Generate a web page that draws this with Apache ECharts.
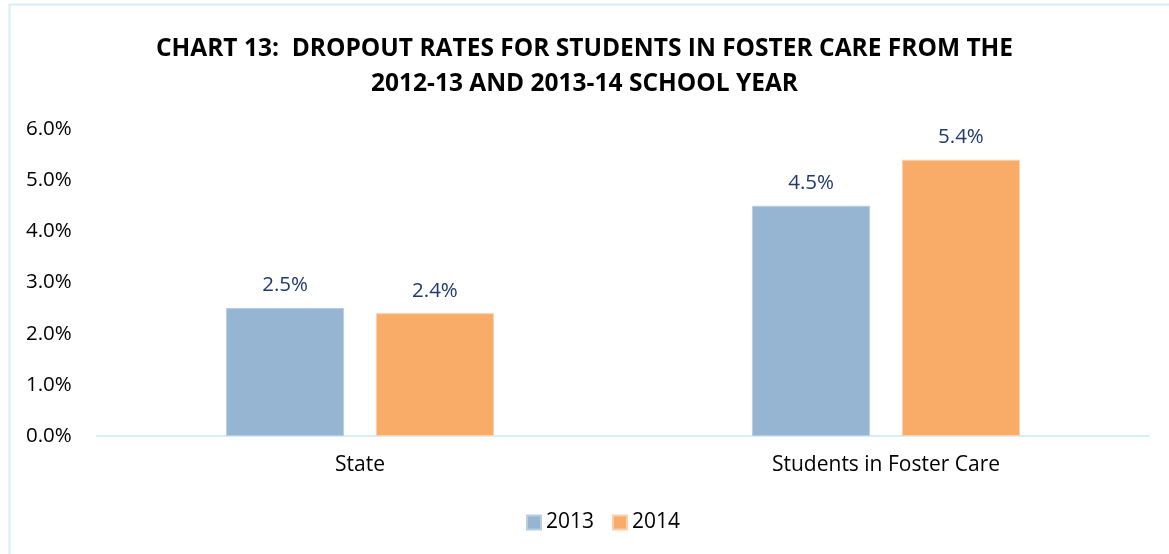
<!DOCTYPE html>
<html>
<head>
<meta charset="utf-8">
<script src="https://cdn.jsdelivr.net/npm/echarts@6/dist/echarts.min.js"></script>
<style>
  html, body { margin: 0; padding: 0; background: #fff; }
  #main { width: 1169px; height: 554px; }
</style>
</head>
<body>
<div id="main"></div>
<script>
var categories = ['State', 'Students in Foster Care'];
var rate2013 = [2.5, 4.5];
var rate2014 = [2.4, 5.4];
var yTicks = [0, 1, 2, 3, 4, 5, 6];

var chart = echarts.init(document.getElementById('main'));
var font = '"Open Sans", "Liberation Sans", sans-serif';

var option = {
  backgroundColor: '#fff',
  title: {
    text: 'CHART 13:  DROPOUT RATES FOR STUDENTS IN FOSTER CARE FROM THE\n2012-13 AND 2013-14 SCHOOL YEAR',
    left: 'center',
    top: 27,
    textStyle: {
      fontFamily: font,
      fontWeight: 'bold',
      fontSize: 24.5,
      lineHeight: 35,
      color: '#000'
    }
  },
  graphic: [{
    type: 'rect',
    shape: { x: 9.5, y: 4.5, width: 1300, height: 700 },
    style: { fill: null, stroke: '#d6eef7', lineWidth: 2 },
    silent: true
  }],
  legend: {
    bottom: 16,
    left: 521,
    itemWidth: 14,
    itemHeight: 14,
    itemGap: 18,
    icon: 'rect',
    textStyle: { fontFamily: font, fontSize: 21, color: '#000' },
    data: ['2013', '2014']
  },
  grid: { left: 97, right: 20, top: 129, bottom: 118 },
  xAxis: {
    type: 'category',
    data: categories,
    axisLine: { lineStyle: { color: '#d6eef7', width: 2 } },
    axisTick: { show: false },
    axisLabel: { fontFamily: font, fontSize: 21, color: '#000', margin: 19 }
  },
  yAxis: {
    type: 'value',
    min: yTicks[0],
    max: yTicks[yTicks.length - 1],
    interval: 1,
    splitLine: { show: false },
    axisLine: { show: false },
    axisTick: { show: false },
    axisLabel: {
      fontFamily: font, fontSize: 20.5, color: '#000', margin: 71,
      align: 'left',
      formatter: function (v) { return v.toFixed(1) + '%'; }
    }
  },
  series: [
    {
      name: '2013',
      type: 'bar',
      data: rate2013,
      barWidth: 118,
      barGap: '27%',
      itemStyle: { color: '#95b5d3', borderColor: '#b8cde2', borderWidth: 1 },
      label: {
        show: true, position: 'top', distance: 12,
        fontFamily: font, fontSize: 20.5, color: '#1f3a6e',
        formatter: function (p) { return p.value.toFixed(1) + '%'; }
      }
    },
    {
      name: '2014',
      type: 'bar',
      data: rate2014,
      barWidth: 118,
      itemStyle: { color: '#f9ab68', borderColor: '#fbd0ac', borderWidth: 1 },
      label: {
        show: true, position: 'top', distance: 12,
        fontFamily: font, fontSize: 20.5, color: '#1f3a6e',
        formatter: function (p) { return p.value.toFixed(1) + '%'; }
      }
    }
  ]
};

chart.setOption(option);
</script>
</body>
</html>
